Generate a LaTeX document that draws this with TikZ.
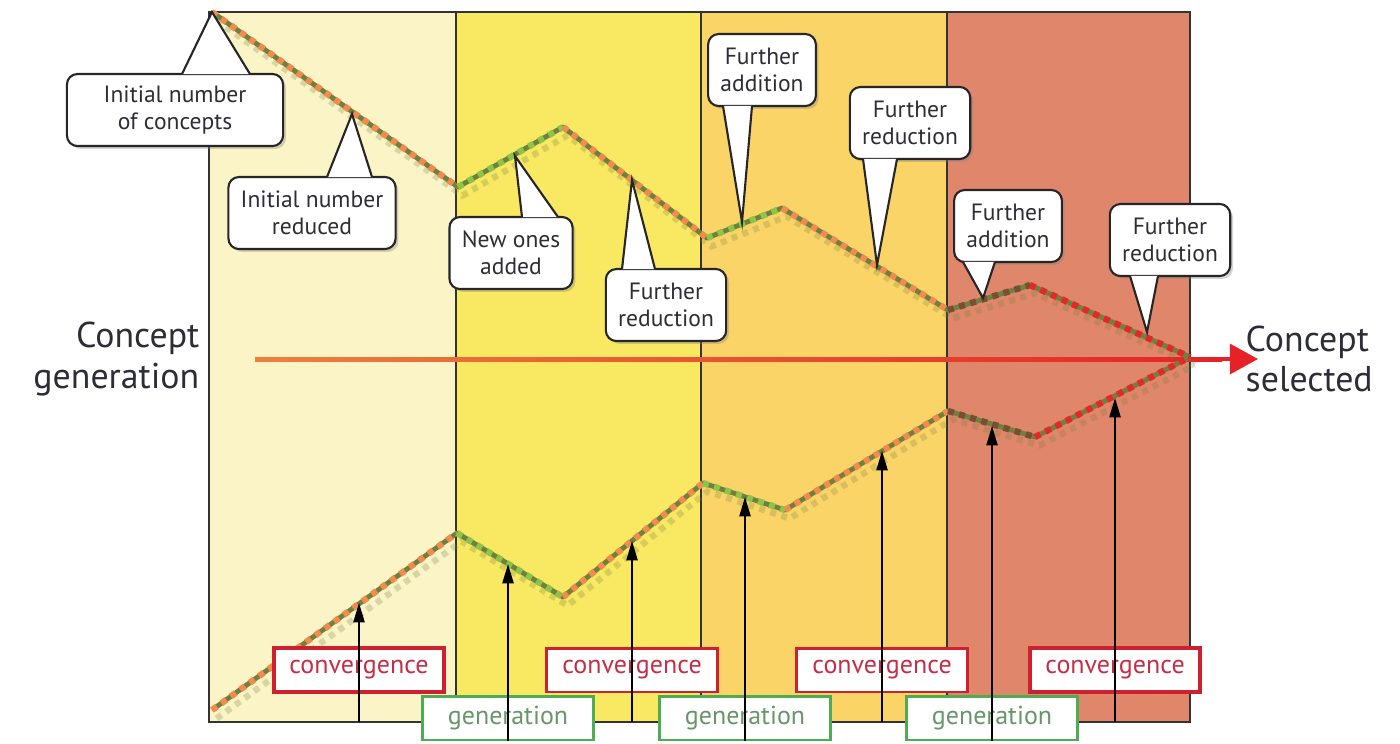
\documentclass[tikz,border=0pt]{standalone}
\usepackage{fontspec}
\setmainfont{PT Sans}
\usetikzlibrary{positioning, shadows, arrows.meta, calc}
\definecolor{bandone}{RGB}{250,244,198}
\definecolor{bandtwo}{RGB}{248,232,98}
\definecolor{bandthree}{RGB}{251,212,104}
\definecolor{bandfour}{RGB}{224,134,106}
\definecolor{olivebase}{RGB}{112,128,62}
\definecolor{dashorange}{RGB}{242,140,78}
\definecolor{dashgreen}{RGB}{142,196,72}
\definecolor{dashbrown}{RGB}{118,80,50}
\definecolor{dashred}{RGB}{226,40,40}
\definecolor{lineorange}{RGB}{238,128,58}
\definecolor{linered}{RGB}{228,34,40}
\definecolor{convred}{RGB}{206,32,46}
\definecolor{convtext}{RGB}{196,46,70}
\definecolor{gengreen}{RGB}{78,172,82}
\definecolor{gentext}{RGB}{104,150,104}
\definecolor{labeltext}{RGB}{45,45,55}

\begin{document}
\begin{tikzpicture}[
            x=0.1mm, y=-0.1mm,
            frame/.style={draw=black!80, line width=0.45pt},
            bubble/.style={draw=black!85, fill=white, rounded corners=3pt, line width=0.6pt, align=center, inner xsep=3.5pt, inner ysep=3pt, minimum height=20.5pt, text=labeltext, font=\fontsize{6.7}{7.7}\selectfont, drop shadow={opacity=0.35, shadow xshift=0.8pt, shadow yshift=-0.8pt}},
            pointer/.style={draw=black!85, fill=white, line width=0.6pt},
            conv/.style={draw=convred, fill=white, line width=0.85pt, minimum width=48.5pt, minimum height=12.5pt, inner sep=0pt, text=convtext, font=\fontsize{7.4}{8}\selectfont},
            gen/.style={conv, draw=gengreen, text=gentext},
            trail/.style={line width=1.4pt, olivebase, line join=round},
            dots/.style={line width=1.8pt, dash pattern=on 1.7pt off 1.6pt},
            ghost/.style={dots, olivebase, opacity=0.25, transform canvas={shift={(1.3pt,-2.4pt)}}},
            uparrow/.style={-{Triangle[length=5.5pt, width=3.2pt]}, line width=0.45pt, black},
            side/.style={inner sep=0pt, text=labeltext, font=\fontsize{10.2}{11.4}\selectfont},
            mainline/.style={-{Triangle[length=8pt, width=8.5pt]}, line width=1.1pt, linered, shorten >=-3.7pt}
        ]
            \useasboundingbox (0,0) rectangle (1400,743);

            \fill[bandone] (209,12) rectangle (456,722);
            \fill[bandtwo] (456,12) rectangle (701,722);
            \fill[bandthree] (701,12) rectangle (947,722);
            \fill[bandfour] (947,12) rectangle (1190,722);
            \draw[frame] (209,12) rectangle (1190,722);
            \foreach \x in {456,701,947} \draw[frame] (\x,12) -- (\x,722);

            \node[side, anchor=east, align=right] (start) at (200,359) {Concept\\generation};
            \node[side, anchor=west, align=left] (sel) at (1245,359) {Concept\\selected};
            \coordinate (hs) at (255,359);
            \draw[mainline] (hs) -- (sel.west);
            \shade[left color=lineorange, right color=linered] (255,357) rectangle (1222,361);

            \coordinate (u0) at (212,12);
            \coordinate (u1) at (458,187);
            \coordinate (u2) at (563,127);
            \coordinate (u3) at (707,238);
            \coordinate (u4) at (782,208);
            \coordinate (u5) at (948,310);
            \coordinate (u6) at (1030,285);
            \coordinate (fin) at (1190,357);
            \coordinate (l0) at (212,710);
            \coordinate (l1) at (457,533);
            \coordinate (l2) at (563,597);
            \coordinate (l3) at (703,483);
            \coordinate (l4) at (785,510);
            \coordinate (l5) at (948,411);
            \coordinate (l6) at (1035,437);

            \draw[ghost] (u0) -- (u1) -- (u2) -- (u3) -- (u4) -- (u5) -- (u6) -- (fin);
            \draw[ghost] (l0) -- (l1) -- (l2) -- (l3) -- (l4) -- (l5) -- (l6) -- (fin);
            \draw[trail] (u0) -- (u1) -- (u2) -- (u3) -- (u4) -- (u5) -- (u6) -- (fin);
            \draw[trail] (l0) -- (l1) -- (l2) -- (l3) -- (l4) -- (l5) -- (l6) -- (fin);
            \foreach \a/\b/\c in {u0/u1/dashorange, u1/u2/dashgreen, u2/u3/dashorange, u3/u4/dashgreen, u4/u5/dashorange, u5/u6/dashbrown, u6/fin/dashred, l0/l1/dashorange, l1/l2/dashgreen, l2/l3/dashorange, l3/l4/dashgreen, l4/l5/dashorange, l5/l6/dashbrown, l6/fin/dashred}
                \draw[dots, \c] (\a) -- (\b);

            \coordinate (t1) at (352,114);
            \coordinate (t2) at (515,156);
            \coordinate (t3) at (632,180);
            \coordinate (t4) at (742,222);
            \coordinate (t5) at (877,265);
            \coordinate (t6) at (983,298);
            \coordinate (t7) at (1147,332);

            \node[bubble, minimum width=61.5pt] (initial) at (175,110) {Initial number\\of concepts};
            \node[bubble] (reduced) at (312,213) {Initial number\\reduced};
            \node[bubble] (added) at (511,253) {New ones\\added};
            \node[bubble] (cutone) at (666,305) {Further\\reduction};
            \node[bubble] (addone) at (762,70) {Further\\addition};
            \node[bubble] (cuttwo) at (910,123) {Further\\reduction};
            \node[bubble] (addtwo) at (1008,226) {Further\\addition};
            \node[bubble] (cutthree) at (1170,240) {Further\\reduction};

            \foreach \n/\s/\l/\r/\d/\t in {initial/north/7/75/1.1/u0, reduced/north/15/60/1.1/t1, added/north/11/47/1.1/t2, cutone/north/-44/-11/1.1/t3, addone/south/-39/-10/-1.1/t4, cuttwo/south/-47/-13/-1.1/t5, addtwo/south/-45/-13/-1.1/t6, cutthree/south/-40/-12/-1.1/t7}
                \filldraw[pointer] ($(\n.\s)+(\l,\d)$) -- (\t) -- ($(\n.\s)+(\r,\d)$);

            \node[conv, line width=1.2pt] (cone) at (359,670) {convergence};
            \node[gen] (gone) at (508,718) {generation};
            \node[conv] (ctwo) at (632,670) {convergence};
            \node[gen] (gtwo) at (745,718) {generation};
            \node[conv] (cthree) at (882,670) {convergence};
            \node[gen] (gthree) at (992,718) {generation};
            \node[conv, line width=1.2pt] (cfour) at (1115,670) {convergence};

            \coordinate (fb) at (0,722);
            \coordinate (a1) at (359,603);
            \coordinate (a2) at (508,564);
            \coordinate (a3) at (632,541);
            \coordinate (a4) at (745,497);
            \coordinate (a5) at (882,451);
            \coordinate (a6) at (992,426);
            \coordinate (a7) at (1115,398);
            \draw[uparrow] (cone |- fb) -- (a1);
            \draw[uparrow] (gone.south) -- (a2);
            \draw[uparrow] (ctwo |- fb) -- (a3);
            \draw[uparrow] (gtwo.south) -- (a4);
            \draw[uparrow] (cthree |- fb) -- (a5);
            \draw[uparrow] (gthree.south) -- (a6);
            \draw[uparrow] (cfour |- fb) -- (a7);
        \end{tikzpicture}
\end{document}
